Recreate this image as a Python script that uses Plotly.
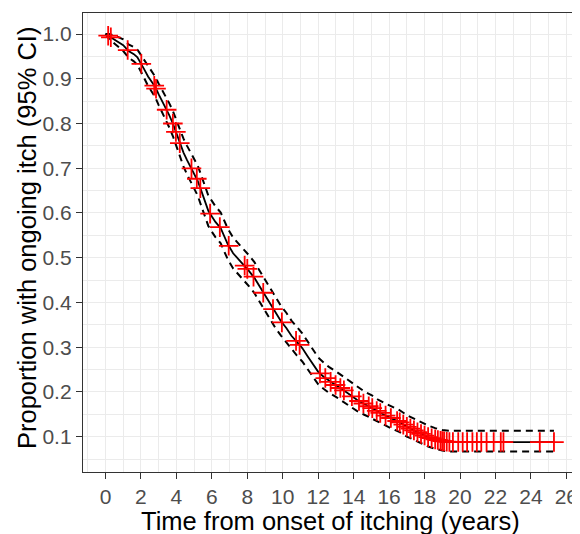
import numpy as np
import plotly.graph_objects as go

# Kaplan-Meier curve readings (time in years, survival, 95% CI)
time = [0.0, 0.2, 0.5, 0.8, 1.0, 1.3, 1.6, 1.8, 2.0, 2.2, 2.4, 2.6, 2.8, 3.0, 3.2, 3.4, 3.6, 3.8,
        4.0, 4.2, 4.4, 4.6, 4.8, 5.0, 5.2, 5.4, 5.6, 5.8, 6.0, 6.2, 6.5, 6.7, 6.9, 7.2, 7.5, 7.8,
        8.1, 8.4, 8.7, 9.0, 9.3, 9.6, 9.9, 10.2, 10.5, 10.8, 11.1, 11.4, 11.7, 12.0, 12.3, 12.6,
        13.0, 13.4, 13.8, 14.2, 14.6, 15.0, 15.4, 15.8, 16.2, 16.6, 17.0, 17.4, 17.8, 18.2, 18.6,
        19.0, 19.4, 25.3]
surv = [1.000, 0.995, 0.988, 0.980, 0.975, 0.962, 0.955, 0.948, 0.935, 0.920, 0.905, 0.892, 0.882,
        0.865, 0.850, 0.835, 0.818, 0.800, 0.778, 0.755, 0.735, 0.718, 0.703, 0.690, 0.672, 0.650,
        0.625, 0.605, 0.592, 0.580, 0.566, 0.548, 0.530, 0.510, 0.497, 0.485, 0.470, 0.455, 0.435,
        0.415, 0.395, 0.375, 0.358, 0.343, 0.325, 0.312, 0.298, 0.280, 0.262, 0.245, 0.234, 0.225,
        0.215, 0.205, 0.193, 0.182, 0.173, 0.165, 0.155, 0.147, 0.140, 0.132, 0.122, 0.114, 0.106,
        0.099, 0.094, 0.090, 0.088, 0.088]
lower = [1.000, 0.989, 0.979, 0.969, 0.962, 0.947, 0.939, 0.931, 0.917, 0.900, 0.884, 0.870, 0.859,
         0.841, 0.825, 0.809, 0.791, 0.772, 0.749, 0.725, 0.704, 0.686, 0.671, 0.657, 0.639, 0.616,
         0.591, 0.571, 0.558, 0.546, 0.532, 0.514, 0.496, 0.476, 0.463, 0.451, 0.436, 0.421, 0.401,
         0.382, 0.362, 0.342, 0.326, 0.311, 0.294, 0.281, 0.268, 0.250, 0.233, 0.217, 0.207, 0.198,
         0.189, 0.179, 0.168, 0.157, 0.149, 0.141, 0.132, 0.124, 0.117, 0.110, 0.100, 0.093, 0.085,
         0.078, 0.073, 0.069, 0.067, 0.067]
upper = [1.000, 1.000, 0.997, 0.991, 0.988, 0.977, 0.971, 0.965, 0.953, 0.940, 0.926, 0.914, 0.905,
         0.889, 0.875, 0.861, 0.845, 0.828, 0.807, 0.785, 0.766, 0.750, 0.735, 0.723, 0.706, 0.684,
         0.659, 0.639, 0.627, 0.615, 0.601, 0.583, 0.565, 0.545, 0.532, 0.520, 0.505, 0.490, 0.470,
         0.450, 0.430, 0.409, 0.392, 0.377, 0.359, 0.345, 0.331, 0.313, 0.295, 0.277, 0.266, 0.256,
         0.246, 0.235, 0.223, 0.211, 0.201, 0.193, 0.182, 0.174, 0.167, 0.159, 0.148, 0.140, 0.132,
         0.125, 0.119, 0.115, 0.113, 0.113]

# censoring times (years)
censor_times = [0.15, 0.3, 1.25, 2.02, 2.75, 2.85, 3.45, 3.8, 3.97, 4.19, 4.85, 5.15, 5.35, 5.9,
                6.45, 6.95, 7.85, 8.0, 8.35, 8.9, 9.45, 9.95, 10.75, 10.95, 12.1, 12.4, 12.7, 12.98,
                13.25, 13.45, 13.9, 14.3, 14.55, 14.85, 15.05, 15.3, 15.5, 15.8, 16.1, 16.45, 16.6,
                16.8, 17.0, 17.2, 17.4, 17.6, 17.8, 18.0, 18.2, 18.4, 18.6, 18.75, 18.9, 19.0, 19.1,
                19.25, 19.4, 19.6, 19.9, 20.15, 20.4, 20.7, 20.95, 21.2, 21.5, 21.9, 22.3, 22.45,
                24.5, 25.3]

x_ticks = list(range(0, 27, 2))
y_ticks = [0.1, 0.2, 0.3, 0.4, 0.5, 0.6, 0.7, 0.8, 0.9, 1.0]
x_title = "Time from onset of itching (years)"
y_title = "Proportion with ongoing itch (95% CI)"

# censor marks sit on the survival curve
censor_surv = np.interp(np.array(censor_times), np.array(time), np.array(surv))

fig = go.Figure()
dash = dict(color="black", width=2, dash="7px,5px")
fig.add_trace(go.Scatter(x=time, y=upper, mode="lines", line=dash,
                         showlegend=False, hoverinfo="skip"))
fig.add_trace(go.Scatter(x=time, y=lower, mode="lines", line=dash,
                         showlegend=False, hoverinfo="skip"))
fig.add_trace(go.Scatter(x=time, y=surv, mode="lines", line=dict(color="black", width=1.8),
                         showlegend=False))
fig.add_trace(go.Scatter(x=censor_times, y=censor_surv, mode="markers",
                         marker=dict(symbol="cross-thin", size=14, line=dict(color="red", width=1.8)),
                         showlegend=False))

font_family = "Liberation Sans, Arial, sans-serif"
axis_common = dict(
    automargin=False,
    showline=True, mirror=True, linecolor="#333333", linewidth=1.3,
    ticks="outside", ticklen=6, tickwidth=1.3, tickcolor="#333333",
    tickfont=dict(size=21, color="#4D4D4D", family=font_family),
    showgrid=True, gridcolor="#EBEBEB", gridwidth=1.3, zeroline=False,
)
fig.update_xaxes(range=[-1.27, 26.6], tickvals=x_ticks, ticktext=[str(v) for v in x_ticks],
                 minor=dict(dtick=1, tick0=1, showgrid=True, gridcolor="#EBEBEB", gridwidth=0.7, ticks=""),
                 **axis_common)
fig.update_yaxes(range=[0.021, 1.047], tickvals=y_ticks, ticktext=[f"{v:.1f}" for v in y_ticks],
                 minor=dict(dtick=0.05, tick0=0.05, showgrid=True, gridcolor="#EBEBEB", gridwidth=0.7, ticks=""),
                 **axis_common)

# axis titles placed relative to the 494x459 panel
fig.add_annotation(text=x_title, xref="paper", yref="paper", x=0.5, y=(472 - 521) / 459,
                   xanchor="center", yanchor="middle", showarrow=False,
                   font=dict(size=25.5, color="black", family=font_family))
fig.add_annotation(text=y_title, xref="paper", yref="paper", x=(27 - 83) / 494, y=(472 - 238) / 459,
                   xanchor="center", yanchor="middle", textangle=-90, showarrow=False,
                   font=dict(size=25.5, color="black", family=font_family))

# the page body adds an 8px margin, so the figure is 8px smaller and shifted
fig.update_layout(width=572, height=526, margin=dict(l=75, r=3, t=5, b=62),
                  plot_bgcolor="white", paper_bgcolor="white",
                  font=dict(family=font_family))
fig.write_html("out.html")
